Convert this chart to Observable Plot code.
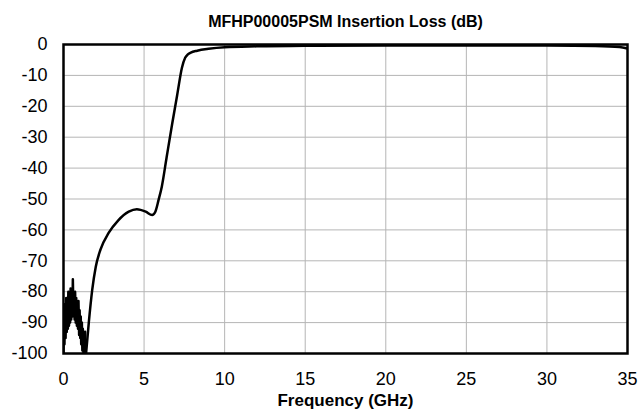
<!DOCTYPE html>
<html>
<head>
<meta charset="utf-8">
<script src="https://cdn.jsdelivr.net/npm/d3@7"></script>
<script src="https://cdn.jsdelivr.net/npm/@observablehq/plot@0.6"></script>
<style>
  html, body { margin: 0; padding: 0; background: #fff; }
  #chart { width: 641px; height: 419px; }
</style>
</head>
<body>
<div id="chart"></div>
<script>
const title = "MFHP00005PSM Insertion Loss (dB)";
const xLabel = "Frequency (GHz)";
const xTicks = [0, 5, 10, 15, 20, 25, 30, 35];
const yTicks = [0, -10, -20, -30, -40, -50, -60, -70, -80, -90, -100];

// Low-frequency noisy region
const noiseFreq = [0, 0.03, 0.06, 0.1, 0.13, 0.17, 0.2, 0.24, 0.27, 0.3, 0.34, 0.37, 0.41, 0.44, 0.48, 0.51, 0.55, 0.58, 0.62, 0.65, 0.69, 0.72, 0.76, 0.79, 0.83, 0.86, 0.9, 0.93, 0.97, 1.0, 1.04, 1.07, 1.1, 1.14, 1.17, 1.2, 1.24, 1.27, 1.3, 1.34, 1.38];
const noiseDb   = [-100, -88, -97, -84, -95, -82, -93, -85, -92, -80, -91, -83, -90, -79, -89, -82, -88, -76, -87, -81, -89, -80, -90, -82, -91, -84, -92, -83, -94, -86, -95, -88, -97, -90, -99, -92, -100, -94, -100, -93, -100];

// Main response curve
const curveFreq = [1.4, 1.57, 1.78, 2.0, 2.3, 2.8, 3.4, 4.05, 4.55, 5.1, 5.5, 5.7, 5.9, 6.1, 6.4, 6.75, 7.05, 7.35, 7.55, 7.7, 7.9, 8.3, 9, 10, 12, 15, 20, 25, 30, 33, 34.5, 35];
const curveDb   = [-100, -90, -79.5, -72, -66.3, -61, -56.9, -54.1, -53.3, -54.1, -55.2, -54.1, -50.3, -46, -36.5, -25.5, -16.5, -7.5, -4.3, -3.3, -2.6, -2.0, -1.4, -0.9, -0.6, -0.4, -0.3, -0.3, -0.35, -0.5, -0.8, -1.3];

const noise = noiseFreq.map((f, i) => ({f, db: noiseDb[i]}));
const curve = curveFreq.map((f, i) => ({f, db: curveDb[i]}));

const font = "'Liberation Sans', Arial, Helvetica, sans-serif";
const gridColor = "#b5b5b5";

const chart = Plot.plot({
  width: 641,
  height: 419,
  marginTop: 44,
  marginBottom: 66,
  marginLeft: 63,
  marginRight: 14,
  style: { fontFamily: font, background: "#fff", color: "#000" },
  x: { domain: [0, 35] },
  y: { domain: [-100, 0] },
  marks: [
    Plot.gridX(xTicks, { stroke: gridColor, strokeOpacity: 1, strokeWidth: 1 }),
    Plot.gridY(yTicks, { stroke: gridColor, strokeOpacity: 1, strokeWidth: 1 }),
    Plot.axisX(xTicks, { tickSize: 0, tickPadding: 19, fontSize: 18, tickFormat: d => String(d), label: null }),
    Plot.axisY(yTicks, { tickSize: 0, tickPadding: 16, fontSize: 18, tickFormat: d => String(d), label: null }),
    Plot.line(noise, { x: "f", y: "db", stroke: "black", strokeWidth: 2.5, clip: true }),
    Plot.line(curve, { x: "f", y: "db", stroke: "black", strokeWidth: 2.5, curve: "monotone-x", clip: true }),
    Plot.frame({ stroke: "black", strokeWidth: 2.5 }),
    Plot.text([title], { frameAnchor: "top", dy: -29, fontWeight: "bold", fontSize: 16, fill: "black" }),
    Plot.text([xLabel], { frameAnchor: "bottom", dy: 52, fontWeight: "bold", fontSize: 17, fill: "black" })
  ]
});
document.getElementById("chart").appendChild(chart);
</script>
</body>
</html>
